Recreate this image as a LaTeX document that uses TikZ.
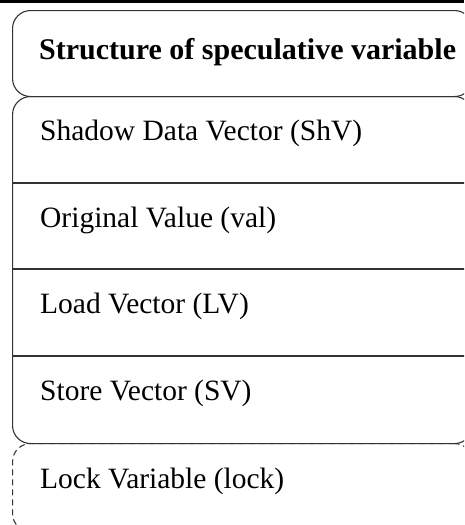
\documentclass[tikz,border=0pt]{standalone}
\usepackage{fontspec}
\setmainfont{Liberation Serif}
\begin{document}
\begin{tikzpicture}[x=1pt,y=-1pt,
  frame/.style={draw=black!80, line width=1.1pt, rounded corners=18pt,
                minimum width=460pt, anchor=north west, inner sep=0pt},
  rowtext/.style={anchor=base west, inner sep=0pt, font=\fontsize{29.5}{34}\selectfont},
  divider/.style={draw=black!80, line width=1.1pt}]
  \path[use as bounding box] (0,0) rectangle (464,525);
  \clip (0,0) rectangle (464,525);

  % heavy rule along the top
  \coordinate (ruleL) at (0,1.5);
  \coordinate (ruleR) at (464,1.5);
  \draw[line width=3pt] (ruleL) -- (ruleR);

  % title box
  \node[frame, minimum height=86pt] (head) at (12,10) {};
  \node[rowtext, font=\fontsize{30}{34}\selectfont\bfseries] (title) at (39,59)
    {Structure of speculative variable};

  % field box with four rows
  \node[frame, minimum height=347pt] (fields) at (12,96) {};
  \foreach \y/\n in {183/a,269/b,356/c}{
    \coordinate (\n L) at (fields.west |- 0,\y);
    \coordinate (\n R) at (fields.east |- 0,\y);
    \draw[divider] (\n L) -- (\n R);
  }
  \node[rowtext] (shv)  at (40,140.5) {Shadow Data Vector (ShV)};
  \node[rowtext] (val)  at (40,227)   {Original Value (val)};
  \node[rowtext] (lv)   at (40,313.5) {Load Vector (LV)};
  \node[rowtext] (sv)   at (40,400.5) {Store Vector (SV)};

  % optional lock field, dashed
  \node[frame, dash pattern=on 6pt off 4pt, minimum height=88pt] (lockbox) at (12,443) {};
  \node[rowtext] (lock) at (40,488) {Lock Variable (lock)};
\end{tikzpicture}
\end{document}
